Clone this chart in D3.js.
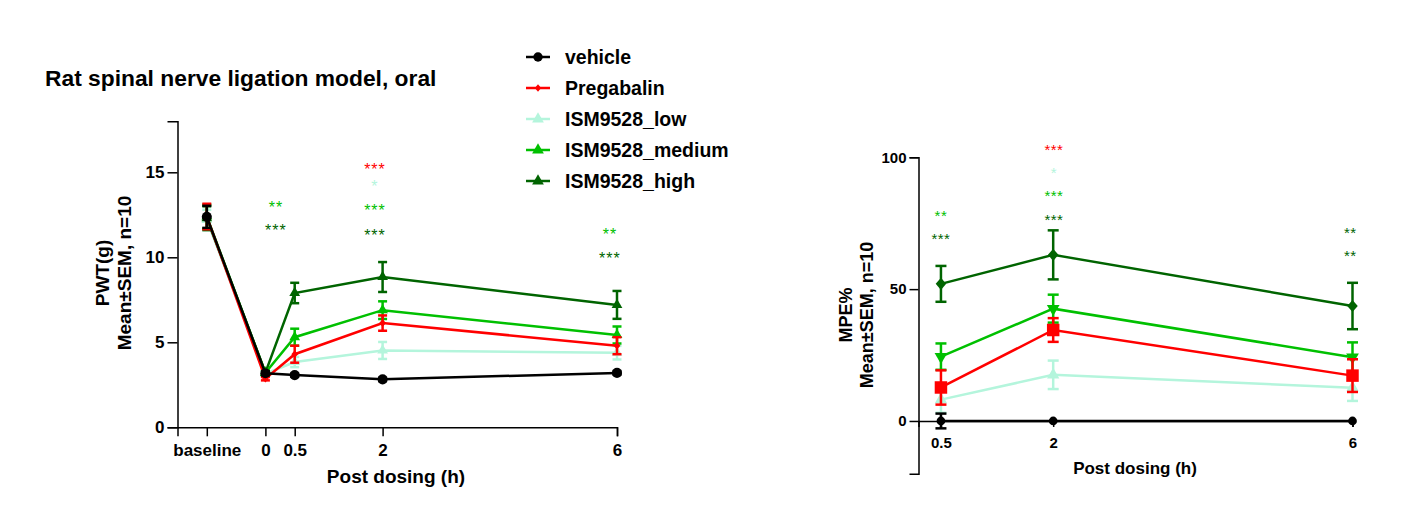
<!DOCTYPE html>
<html>
<head>
<meta charset="utf-8">
<script src="https://cdn.jsdelivr.net/npm/d3@7"></script>
<style>
  body { margin: 0; background: #fff; }
  svg { display: block; font-family: "Liberation Sans", Arial, sans-serif; }
</style>
</head>
<body>
<svg id="chart" width="1424" height="505"></svg>
<script>
// groups and colours
var groups = ["vehicle", "Pregabalin", "ISM9528_low", "ISM9528_medium", "ISM9528_high"];
var colors = ["#000000", "#ff0000", "#b4f5dc", "#00c000", "#006400"];

// left panel: PWT(g)
var pwtTimes = [-1, 0, 0.5, 2, 6];
var pwtTickLabels = ["baseline", "0", "0.5", "2", "6"];
var pwtVehicle = [12.38, 3.18, 3.07, 2.82, 3.2];
var pwtVehicleSem = [0.65, 0.12, 0.1, 0.1, 0.1];
var pwtPregabalin = [12.4, 2.86, 4.3, 6.13, 4.8];
var pwtPregabalinSem = [0.75, 0.1, 0.5, 0.45, 0.5];
var pwtLow = [12.2, 3.15, 3.84, 4.52, 4.39];
var pwtLowSem = [0.6, 0.1, 0.3, 0.5, 0.4];
var pwtMedium = [12.4, 3.2, 5.3, 6.89, 5.43];
var pwtMediumSem = [0.7, 0.1, 0.5, 0.52, 0.5];
var pwtHigh = [12.3, 3.22, 7.9, 8.84, 7.2];
var pwtHighSem = [0.7, 0.1, 0.6, 0.88, 0.82];
var pwtTicks = [0, 5, 10, 15];

// left panel significance marks
var pwtStarTimes = [0.18, 0.18, 1.87, 1.87, 1.87, 1.87, 5.88, 5.88];
var pwtStarValues = [13.2, 11.8, 15.4, 14.4, 13.0, 11.5, 11.57, 10.2];
var pwtStarLabels = ["**", "***", "***", "*", "***", "***", "**", "***"];
var pwtStarGroups = [3, 4, 1, 2, 3, 4, 3, 4];

// right panel: MPE%
var mpeTimes = [0.5, 2, 6];
var mpeTickLabels = ["0.5", "2", "6"];
var mpeVehicle = [0, 0, 0];
var mpeVehicleSem = [2.8, 0, 0];
var mpePregabalin = [12.7, 34.5, 17.2];
var mpePregabalinSem = [6.5, 4.5, 6.2];
var mpeLow = [8.1, 17.5, 12.6];
var mpeLowSem = [5, 5.4, 5];
var mpeMedium = [24.4, 42.6, 24.2];
var mpeMediumSem = [5, 5.3, 5.6];
var mpeHigh = [52.0, 63.0, 43.6];
var mpeHighSem = [6.8, 9.3, 8.8];
var mpeTicks = [0, 50, 100];

var mpeStarTimes = [0.5, 0.5, 2.01, 2.01, 2.01, 2.01, 5.97, 5.97];
var mpeStarValues = [79.4, 70.4, 104.3, 95.6, 87, 77.7, 72.8, 64.1];
var mpeStarLabels = ["**", "***", "***", "*", "***", "***", "**", "**"];
var mpeStarGroups = [3, 4, 1, 2, 3, 4, 4, 4];

var svg = d3.select("#chart");
var FONT = "'Liberation Sans', Arial, sans-serif";

// custom symbols
var diamond = {
    draw: function(ctx, size) {
        var r = Math.sqrt(size) / 2;
        ctx.moveTo(0, -r * 1.15);
        ctx.lineTo(r, 0);
        ctx.lineTo(0, r * 1.15);
        ctx.lineTo(-r, 0);
        ctx.closePath();
    }
};
var triDown = {
    draw: function(ctx, size) {
        var y = Math.sqrt(size / (Math.sqrt(3) * 3));
        ctx.moveTo(0, 2 * y);
        ctx.lineTo(-Math.sqrt(3) * y, -y);
        ctx.lineTo(Math.sqrt(3) * y, -y);
        ctx.closePath();
    }
};

function series(times, vals, sems) {
    return vals.map(function(v, i) {
        return { t: times[i], v: v, e: sems[i] };
    });
}

function drawPanel(cfg) {
    var g = svg.append("g");
    var x = d3.scaleLinear().domain(cfg.xDomain).range(cfg.xRange);
    var y = d3.scaleLinear().domain(cfg.yDomain).range(cfg.yRange);
    var y0 = y(0);

    // y axis
    var ya = g.append("g")
        .attr("transform", "translate(" + cfg.xRange[0] + ",0)")
        .call(d3.axisLeft(y).tickValues(cfg.yTicks).tickSizeOuter(0).tickSize(cfg.yTickSize).tickPadding(3));
    ya.selectAll("path, line").attr("stroke", "#000").attr("stroke-width", 1.5);
    ya.selectAll("text").style("font", "bold " + cfg.tickFont + "px " + FONT).attr("fill", "#000");

    // x axis crossing at 0
    var xa = g.append("g")
        .attr("transform", "translate(0," + y0 + ")")
        .call(d3.axisBottom(x).tickValues(cfg.xTicks).tickSizeOuter(0).tickSize(cfg.xTickSize)
            .tickFormat(function(d, i) { return cfg.xLabels[i]; }));
    xa.selectAll("path, line").attr("stroke", "#000").attr("stroke-width", 1.5);
    xa.selectAll("text")
        .style("font", "bold " + cfg.tickFont + "px " + FONT)
        .attr("fill", "#000")
        .attr("y", cfg.xLabelOffset)
        .attr("dy", 0);

    // axis titles
    g.append("text")
        .attr("x", cfg.xTitlePos[0]).attr("y", cfg.xTitlePos[1])
        .attr("text-anchor", "middle")
        .style("font", "bold " + cfg.xTitleFont + "px " + FONT)
        .text("Post dosing (h)");
    cfg.yTitle.forEach(function(line, i) {
        g.append("text")
            .attr("transform", "translate(" + cfg.yTitleX[i] + "," + cfg.yTitleY + ") rotate(-90)")
            .attr("text-anchor", "middle")
            .style("font", "bold " + cfg.yTitleFont[i] + "px " + FONT)
            .text(line);
    });

    var line = d3.line().x(function(d) { return x(d.t); }).y(function(d) { return y(d.v); });

    cfg.order.forEach(function(k) {
        var data = cfg.data[k];
        var col = colors[k];
        var sg = g.append("g");
        sg.append("path")
            .datum(data)
            .attr("fill", "none")
            .attr("stroke", col)
            .attr("stroke-width", 2.5)
            .attr("d", line);

        var eb = sg.selectAll(".eb").data(data.filter(function(d) { return d.e > 0; }))
            .enter().append("g");
        eb.append("line")
            .attr("x1", function(d) { return x(d.t); })
            .attr("x2", function(d) { return x(d.t); })
            .attr("y1", function(d) { return y(d.v + d.e); })
            .attr("y2", function(d) { return y(d.v - d.e); });
        [1, -1].forEach(function(s) {
            eb.append("line")
                .attr("x1", function(d) { return x(d.t) - cfg.cap; })
                .attr("x2", function(d) { return x(d.t) + cfg.cap; })
                .attr("y1", function(d) { return y(d.v + s * d.e); })
                .attr("y2", function(d) { return y(d.v + s * d.e); });
        });
        eb.selectAll("line").attr("stroke", col).attr("stroke-width", 2.5);

        sg.selectAll(".pt").data(data).enter().append("path")
            .attr("transform", function(d) { return "translate(" + x(d.t) + "," + y(d.v) + ")"; })
            .attr("d", d3.symbol().type(cfg.symbols[k]).size(cfg.sizes[k]))
            .attr("fill", col);
    });

    // significance stars
    cfg.starTimes.forEach(function(t, i) {
        g.append("text")
            .attr("x", x(t))
            .attr("y", y(cfg.starValues[i]) + cfg.starFont * 0.6)
            .attr("text-anchor", "middle")
            .attr("fill", colors[cfg.starGroups[i]])
            .style("font", cfg.starFont + "px " + FONT)
            .style("letter-spacing", cfg.starSpacing + "px")
            .text(cfg.starLabels[i]);
    });
}

// title
svg.append("text")
    .attr("x", 45).attr("y", 86)
    .style("font", "bold 22.8px " + FONT)
    .text("Rat spinal nerve ligation model, oral");

drawPanel({
    xDomain: [-1.5, 6], xRange: [177.5, 617],
    yDomain: [0, 18], yRange: [427.3, 121.3],
    yTicks: pwtTicks, xTicks: pwtTimes, xLabels: pwtTickLabels,
    yTickSize: 10, xTickSize: 9, xLabelOffset: 29, tickFont: 17,
    xTitlePos: [396, 483], xTitleFont: 19,
    yTitle: ["PWT(g)", "Mean\u00b1SEM, n=10"], yTitleX: [109, 131], yTitleY: 273, yTitleFont: [19, 19],
    cap: 4.5,
    order: [2, 4, 3, 1, 0],
    data: [
        series(pwtTimes, pwtVehicle, pwtVehicleSem),
        series(pwtTimes, pwtPregabalin, pwtPregabalinSem),
        series(pwtTimes, pwtLow, pwtLowSem),
        series(pwtTimes, pwtMedium, pwtMediumSem),
        series(pwtTimes, pwtHigh, pwtHighSem)
    ],
    symbols: [d3.symbolCircle, diamond, d3.symbolTriangle, d3.symbolTriangle, d3.symbolTriangle],
    sizes: [80, 45, 50, 50, 50],
    starTimes: pwtStarTimes, starValues: pwtStarValues, starLabels: pwtStarLabels, starGroups: pwtStarGroups,
    starFont: 16, starSpacing: 1
});

drawPanel({
    xDomain: [0.2, 6], xRange: [918.5, 1352.5],
    yDomain: [-20, 100], yRange: [473.7, 157.3],
    yTicks: mpeTicks, xTicks: mpeTimes, xLabels: mpeTickLabels,
    yTickSize: 9, xTickSize: 6, xLabelOffset: 27, tickFont: 15,
    xTitlePos: [1135, 474], xTitleFont: 17,
    yTitle: ["MPE%", "Mean\u00b1SEM, n=10"], yTitleX: [852, 873], yTitleY: 315, yTitleFont: [18, 18],
    cap: 5.5,
    order: [2, 3, 1, 4, 0],
    data: [
        series(mpeTimes, mpeVehicle, mpeVehicleSem),
        series(mpeTimes, mpePregabalin, mpePregabalinSem),
        series(mpeTimes, mpeLow, mpeLowSem),
        series(mpeTimes, mpeMedium, mpeMediumSem),
        series(mpeTimes, mpeHigh, mpeHighSem)
    ],
    symbols: [d3.symbolCircle, d3.symbolSquare, d3.symbolTriangle, triDown, diamond],
    sizes: [60, 156, 66, 70, 110],
    starTimes: mpeStarTimes, starValues: mpeStarValues, starLabels: mpeStarLabels, starGroups: mpeStarGroups,
    starFont: 15, starSpacing: 0.5
});

// legend
var legendSymbols = [d3.symbolCircle, diamond, d3.symbolTriangle, d3.symbolTriangle, d3.symbolTriangle];
var legendSizes = [70, 40, 60, 60, 60];
var legend = svg.append("g").attr("transform", "translate(526, 57)");
var item = legend.selectAll("g").data(groups).enter().append("g")
    .attr("transform", function(d, i) { return "translate(0," + (31 * i) + ")"; });
item.append("line")
    .attr("x1", 0).attr("x2", 24).attr("y1", 0).attr("y2", 0)
    .attr("stroke", function(d, i) { return colors[i]; })
    .attr("stroke-width", 2.5);
item.append("path")
    .attr("transform", "translate(12,0)")
    .attr("d", function(d, i) { return d3.symbol().type(legendSymbols[i]).size(legendSizes[i])(); })
    .attr("fill", function(d, i) { return colors[i]; });
item.append("text")
    .attr("x", 39).attr("y", 7)
    .style("font", "bold 19.5px " + FONT)
    .text(function(d) { return d; });
</script>
</body>
</html>
